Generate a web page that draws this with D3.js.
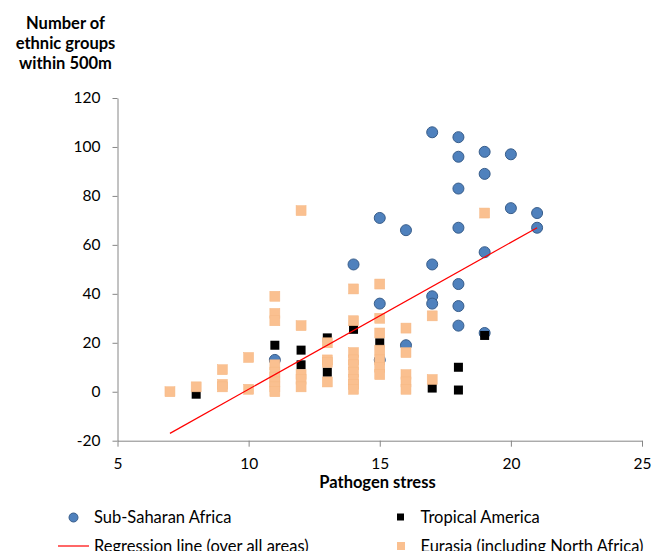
<!DOCTYPE html>
<html>
<head>
<meta charset="utf-8">
<script src="https://cdn.jsdelivr.net/npm/d3@7"></script>
<style>
  body { margin: 0; background: #fff; }
  svg text { font-family: Lato, "Open Sans", sans-serif; fill: #000; }
  .axis path, .axis line { stroke: #868686; }
</style>
</head>
<body>
<div id="chart"></div>
<script>
// Sub-Saharan Africa [pathogen stress, ethnic groups]
var africa = [
    [11,13],[14,52],[15,71],[15,36],[15,13],[16,66],[16,19],
    [17,106],[17,52],[17,39],[17,36],
    [18,104],[18,96],[18,83],[18,67],[18,44],[18,35],[18,27],
    [19,98],[19,89],[19,57],[19,24],[20,97],[20,75],[21,73],[21,67]
];

// Tropical America
var tropical = [
    [8,-1],[11,19],[12,17],[12,11],[13,22],[13,8],[14,25.5],[15,20],
    [17,1.5],[18,10],[18,0.7],[19,23]
];

// Eurasia (including North Africa)
var eurasia = [
    [7,0],[8,2],[9,9],[9,3],[9,2],[10,14],[10,1],
    [11,39],[11,32],[11,29],[11,11],[11,8],[11,6],[11,4],[11,2],[11,0],
    [12,74],[12,27],[12,7],[12,5],[12,2],
    [13,20],[13,13],[13,12],[13,4],
    [14,42],[14,29],[14,16],[14,13],[14,11],[14,8],[14,5],[14,3],[14,1],
    [15,44],[15,30],[15,24],[15,17],[15,13],[15,10],[15,7],
    [16,26],[16,16],[16,7],[16,4],[16,1],
    [17,31],[17,5],[19,73]
];

// regression line over all areas
var regression = [[7,-17],[21,67]];

var xTicks = [5, 10, 15, 20, 25],
    yTicks = [-20, 0, 20, 40, 60, 80, 100, 120];

var width = 667, height = 551;
var margins = {top: 98, right: 25, bottom: 110, left: 117.5};

var svg = d3.select("#chart").append("svg")
    .attr("width", width)
    .attr("height", height);

var x = d3.scaleLinear()
    .domain([5, 25])
    .range([margins.left, width - margins.right]);

var y = d3.scaleLinear()
    .domain([-20, 120])
    .range([440.7, margins.top]);

// plain hyphen for negatives, like the original
var plain = function(d) { return String(d); };

// axes
var xAxis = d3.axisBottom(x)
    .tickValues(xTicks)
    .tickFormat(plain)
    .tickSize(6)
    .tickPadding(11)
    .tickSizeOuter(0);

var yAxis = d3.axisLeft(y)
    .tickValues(yTicks)
    .tickFormat(plain)
    .tickSize(5)
    .tickPadding(12)
    .tickSizeOuter(0);

svg.append("g")
    .attr("class", "axis")
    .attr("transform", "translate(0," + y(-20) + ")")
    .call(xAxis)
    .selectAll("text")
    .style("font-size", "15.5px");

svg.append("g")
    .attr("class", "axis")
    .attr("transform", "translate(" + x(5) + ",0)")
    .call(yAxis)
    .selectAll("text")
    .style("font-size", "15.5px");

// titles
var yTitle = ["Number of", "ethnic groups", "within 500m"];
svg.append("g").selectAll("text")
    .data(yTitle)
    .enter().append("text")
    .attr("x", 65.5)
    .attr("y", function(d, i) { return 28.5 + i * 20; })
    .attr("text-anchor", "middle")
    .style("font-weight", "bold")
    .style("font-size", "16.5px")
    .text(function(d) { return d; });

svg.append("text")
    .attr("x", 377.5)
    .attr("y", 488)
    .attr("text-anchor", "middle")
    .style("font-weight", "bold")
    .style("font-size", "16.5px")
    .text("Pathogen stress");

// marks: Africa underneath, then Tropical America, then Eurasia
svg.append("g").selectAll("circle")
    .data(africa)
    .enter().append("circle")
    .attr("cx", function(d) { return x(d[0]); })
    .attr("cy", function(d) { return y(d[1]); })
    .attr("r", 5.5)
    .style("fill", "#4F81BD")
    .style("stroke", "#385D8A")
    .style("stroke-width", 1);

var blackSize = 9;
svg.append("g").selectAll("rect")
    .data(tropical)
    .enter().append("rect")
    .attr("x", function(d) { return x(d[0]) - blackSize / 2; })
    .attr("y", function(d) { return y(d[1]) - blackSize / 2; })
    .attr("width", blackSize)
    .attr("height", blackSize)
    .style("fill", "#000");

var orangeSize = 10;
svg.append("g").selectAll("rect")
    .data(eurasia)
    .enter().append("rect")
    .attr("x", function(d) { return x(d[0]) - orangeSize / 2; })
    .attr("y", function(d) { return y(d[1]) - orangeSize / 2; })
    .attr("width", orangeSize)
    .attr("height", orangeSize)
    .style("fill", "#FAC090")
    .style("stroke", "#F5B784")
    .style("stroke-width", 0.5);

var line = d3.line()
    .x(function(d) { return x(d[0]); })
    .y(function(d) { return y(d[1]); });

svg.append("path")
    .attr("d", line(regression))
    .style("fill", "none")
    .style("stroke", "#FF0000")
    .style("stroke-width", 1.2);

// legend (second row runs off the bottom edge, as in the original)
var legend = svg.append("g").style("font-size", "16.5px");

legend.append("circle")
    .attr("cx", 73.5).attr("cy", 517.5).attr("r", 4.5)
    .style("fill", "#4F81BD").style("stroke", "#385D8A");
legend.append("text").attr("x", 94).attr("y", 523).text("Sub-Saharan Africa");

legend.append("rect")
    .attr("x", 397).attr("y", 513.5).attr("width", 7).attr("height", 7)
    .style("fill", "#000");
legend.append("text").attr("x", 420.5).attr("y", 523).text("Tropical America");

legend.append("line")
    .attr("x1", 58).attr("x2", 89).attr("y1", 546).attr("y2", 546)
    .style("stroke", "#FF0000").style("stroke-width", 1.2);
legend.append("text").attr("x", 94).attr("y", 551.5).text("Regression line (over all areas)");

legend.append("rect")
    .attr("x", 397).attr("y", 542).attr("width", 8).attr("height", 8)
    .style("fill", "#FAC090");
legend.append("text").attr("x", 420.5).attr("y", 551.5).text("Eurasia (including North Africa)");
</script>
</body>
</html>
